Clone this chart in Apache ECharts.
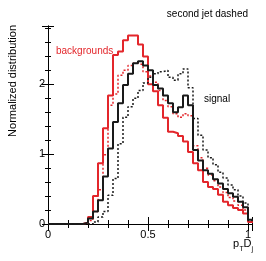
<!DOCTYPE html>
<html>
<head>
<meta charset="utf-8">
<script src="https://cdn.jsdelivr.net/npm/echarts@6/dist/echarts.min.js"></script>
<style>
html,body{margin:0;padding:0;background:#fff;}
#c{width:266px;height:261px;}
</style>
</head>
<body>
<div id="c"></div>
<script>
// bin lower edges (bin width 0.025)
var binEdges = [0,0.025,0.05,0.075,0.1,0.125,0.15,0.175,0.2,0.225,0.25,0.275,0.3,0.325,0.35,0.375,0.4,0.425,0.45,0.475,0.5,0.525,0.55,0.575,0.6,0.625,0.65,0.675,0.7,0.725,0.75,0.775,0.8,0.825,0.85,0.875,0.9,0.925,0.95,0.975,1.0,1.025];
// backgrounds, first jet (red solid)
var bkgLead = [0,0,0,0,0,0,0,0.02,0.1,0.4,0.87,1.37,1.84,2.42,2.47,2.63,2.7,2.7,2.57,2.4,2.0,1.9,1.7,1.52,1.32,1.3,1.26,1.18,1.03,0.87,0.77,0.6,0.53,0.5,0.42,0.32,0.27,0.23,0.2,0.15,0.03];
// backgrounds, second jet (red dashed)
var bkgSecond = [0,0,0,0,0,0,0,0.02,0.05,0.18,0.49,0.99,1.7,1.86,2.13,2.2,2.27,2.3,2.28,2.18,2.12,2.03,1.91,1.77,1.68,1.58,1.53,1.58,1.55,1.12,0.95,0.8,0.7,0.62,0.53,0.45,0.38,0.33,0.27,0.2,0.03];
// signal, first jet (black solid)
var sigLead = [0,0,0,0,0,0,0,0.02,0.08,0.18,0.34,0.68,1.08,1.46,1.73,1.99,2.15,2.3,2.33,2.27,2.2,1.99,1.94,1.84,1.73,1.6,1.67,1.84,1.7,1.06,0.91,0.77,0.72,0.64,0.58,0.5,0.44,0.39,0.32,0.24,0.06];
// signal, second jet (black dashed)
var sigSecond = [0,0,0,0,0,0,0,0,0,0.03,0.1,0.18,0.41,0.65,1.15,1.53,1.68,1.8,1.91,2.02,2.1,2.15,2.18,2.2,2.1,2.06,2.15,2.22,1.95,1.51,1.27,1.06,0.95,0.85,0.74,0.66,0.56,0.49,0.4,0.3,0.05];
var xTickLabels = ['0','0.5','1'];
var yTickLabels = ['0','1','2'];

function steps(vals){
  var d = [];
  for (var i = 0; i < vals.length; i++) d.push([binEdges[i], vals[i]]);
  d.push([binEdges[vals.length], vals[vals.length-1]]);
  return d;
}
var RED = '#e3262b', BLK = '#1a1a1a';
var font = 'Liberation Sans, Arial, Helvetica, sans-serif';
function lbl(list){
  return function(v){
    var s = String(Math.round(v*1000)/1000);
    return list.indexOf(s) >= 0 ? s : '';
  };
}
var axisCommonX = {
  type:'value', min:0, max:1.02, interval:0.5,
  axisLine:{show:true, lineStyle:{color:'#000', width:1}},
  axisTick:{show:true, inside:true, length:7, lineStyle:{color:'#000'}},
  minorTick:{show:true, splitNumber:5, length:4, lineStyle:{color:'#000'}},
  splitLine:{show:false}, minorSplitLine:{show:false}
};
var axisCommonY = {
  type:'value', min:0, max:2.835, interval:1,
  axisLine:{show:true, lineStyle:{color:'#000', width:1}},
  axisTick:{show:true, inside:true, length:6, lineStyle:{color:'#000'}},
  minorTick:{show:true, splitNumber:5, length:3, lineStyle:{color:'#000'}},
  splitLine:{show:false}, minorSplitLine:{show:false}
};
function mk(base, extra){ return Object.assign(JSON.parse(JSON.stringify(base)), extra); }

var chart = echarts.init(document.getElementById('c'), null, {renderer:'canvas'});
chart.setOption({
  animation:false,
  backgroundColor:'#fff',
  grid:{left:48, right:14, top:26, bottom:37},
  xAxis:[
    mk(axisCommonX, {position:'bottom', axisLabel:{show:true, margin:5, color:'#000', fontSize:11, fontFamily:font, formatter:lbl(xTickLabels)}}),
    mk(axisCommonX, {position:'top', axisLabel:{show:false}})
  ],
  yAxis:[
    mk(axisCommonY, {position:'left', axisLabel:{show:true, margin:3, color:'#000', fontSize:11, fontFamily:font, formatter:lbl(yTickLabels)}}),
    mk(axisCommonY, {position:'right', axisLabel:{show:false}})
  ],
  graphic:[
    {type:'text', x:13, y:25, rotation:Math.PI/2, style:{text:'Normalized distribution', fill:'#000', font:'11px '+font, textAlign:'right', textVerticalAlign:'middle'}},
    {type:'text', x:248, y:14, style:{text:'second jet dashed', fill:'#000', font:'10px '+font, textAlign:'right', textVerticalAlign:'middle'}},
    {type:'text', x:56, y:51, style:{text:'backgrounds', fill:RED, font:'10px '+font, textAlign:'left', textVerticalAlign:'middle'}},
    {type:'text', x:204, y:99, style:{text:'signal', fill:'#000', font:'10px '+font, textAlign:'left', textVerticalAlign:'middle'}},
    {type:'text', x:233, y:244, style:{text:'p', fill:'#000', font:'11px '+font, textAlign:'left', textVerticalAlign:'middle'}},
    {type:'text', x:239.5, y:249, style:{text:'T', fill:'#000', font:'7px '+font, textAlign:'left', textVerticalAlign:'middle'}},
    {type:'text', x:243.5, y:244, style:{text:'D', fill:'#000', font:'11px '+font, textAlign:'left', textVerticalAlign:'middle'}},
    {type:'text', x:251.5, y:249, style:{text:'j', fill:'#000', font:'7px '+font, textAlign:'left', textVerticalAlign:'middle'}}
  ],
  series:[
    {type:'line', step:'end', data:steps(bkgLead), symbol:'none', lineStyle:{color:RED, width:2}, xAxisIndex:0, yAxisIndex:0, z:3},
    {type:'line', step:'end', data:steps(bkgSecond), symbol:'none', lineStyle:{color:RED, width:1.5, type:[2,2]}, xAxisIndex:0, yAxisIndex:0, z:3},
    {type:'line', step:'end', data:steps(sigLead), symbol:'none', lineStyle:{color:BLK, width:2}, xAxisIndex:0, yAxisIndex:0, z:4},
    {type:'line', step:'end', data:steps(sigSecond), symbol:'none', lineStyle:{color:BLK, width:1.5, type:[2,2]}, xAxisIndex:0, yAxisIndex:0, z:4}
  ]
});
</script>
</body>
</html>
